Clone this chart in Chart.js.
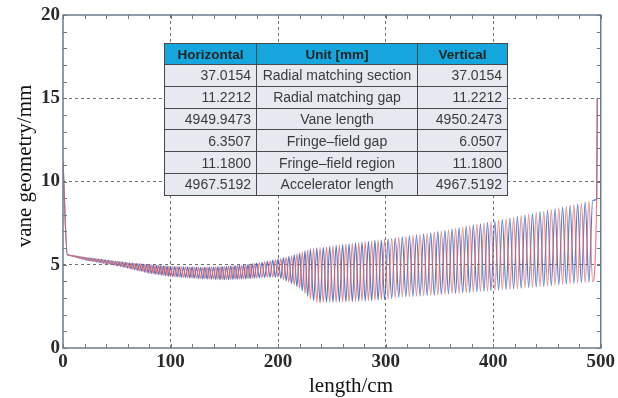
<!DOCTYPE html>
<html>
<head>
<meta charset="utf-8">
<script src="https://cdn.jsdelivr.net/npm/chart.js@4.4.1/dist/chart.umd.min.js"></script>
<style>
body { margin: 0; background: #fff; }
#wrap { position: relative; width: 618px; height: 398px; }
#vaneTable {
    position: absolute; left: 164px; top: 43px;
    border-collapse: collapse;
    font-family: "Liberation Sans", Arial, sans-serif;
    font-size: 14px; color: #3a3a3a;
}
#vaneTable th, #vaneTable td { border: 1px solid #4a4a4a; padding: 0; }
#vaneTable th { background: #14a6dc; height: 20px; font-size: 13.5px; color: #262626; text-align: center; }
#vaneTable td { background: #e6eaf0; height: 20.8px; }
#vaneTable td.num { text-align: right; padding-right: 5px; }
#vaneTable td.mid { text-align: center; }
</style>
</head>
<body>
<div id="wrap">
    <canvas id="vaneCanvas" width="618" height="398"></canvas>
    <table id="vaneTable"></table>
</div>
<script>
// table contents
var tableHead = ['Horizontal', 'Unit [mm]', 'Vertical'];
var horizontalVals = ['37.0154', '11.2212', '4949.9473', '6.3507', '11.1800', '4967.5192'];
var unitNames = ['Radial matching section', 'Radial matching gap', 'Vane length',
    'Fringe\u2013field gap', 'Fringe\u2013field region', 'Accelerator length'];
var verticalVals = ['37.0154', '11.2212', '4950.2473', '6.0507', '11.1800', '4967.5192'];

// axis ticks
var xTicks = [0, 100, 200, 300, 400, 500];
var yTicks = [0, 5, 10, 15, 20];

// radial matching entry and fringe-field exit (cm, mm)
var entryZ = [0.0], entryY = [11.22];
var exitZ = [496.2, 496.8], exitY = [8.95, 15.0];

// cell boundaries (cm) with max / min vane aperture (mm)
var cellZ = [
    4.0, 5.6, 7.2, 8.8, 10.4, 12.0, 13.6, 15.2, 16.8, 18.4, 20.0, 21.6, 23.2, 24.8, 26.4, 28.0,
    29.6, 31.2, 32.8, 34.4, 36.0, 37.6, 39.2, 40.8, 42.4, 44.0, 45.6, 47.2, 48.8, 50.4, 52.0,
    53.6, 55.2, 56.8, 58.4, 60.0, 61.6, 63.2, 64.8, 66.4, 68.0, 69.6, 71.2, 72.8, 74.4, 76.0,
    77.6, 79.2, 80.8, 82.4, 84.0, 85.6, 87.2, 88.8, 90.4, 92.0, 93.6, 95.2, 96.8, 98.4, 100.0,
    102, 104, 106, 108, 110, 112, 114, 116, 118, 120, 122, 124, 126, 128, 130, 132, 134, 136,
    138, 140, 142, 144, 146, 148, 150, 152, 154, 156, 158, 160, 162, 164, 166, 168, 170, 172,
    174, 176, 178, 180,
    182.5, 185, 187.5, 190, 192.5, 195, 197.5, 200, 202.5, 205, 207.5, 210, 212.5, 215, 217.5,
    220, 222.5, 225, 227.5, 230,
    233, 236, 239, 242, 245, 248, 251, 254, 257, 260, 263, 266, 269, 272, 275, 278, 281, 284,
    287, 290, 293, 296, 299,
    302.3, 305.6, 308.9, 312.2, 315.5, 318.8, 322.1, 325.4, 328.7, 332.0, 335.3, 338.6, 341.9,
    345.2, 348.5, 351.8, 355.1, 358.4, 361.7, 365.0, 368.3, 371.6, 374.9, 378.2, 381.5, 384.8,
    388.1, 391.4, 394.7, 398.0,
    401.5, 405, 408.5, 412, 415.5, 419, 422.5, 426, 429.5, 433, 436.5, 440, 443.5, 447, 450.5,
    454, 457.5, 461, 464.5, 468, 471.5, 475, 478.5, 482, 485.5, 489, 492.5
];
var apertureMax = [
    5.60, 5.59, 5.57, 5.56, 5.54, 5.53, 5.51, 5.50, 5.48, 5.47, 5.45, 5.44, 5.42, 5.41, 5.40, 5.38,
    5.37, 5.36, 5.34, 5.33, 5.32, 5.30, 5.29, 5.28, 5.26, 5.25, 5.24, 5.22, 5.21, 5.20, 5.19,
    5.18, 5.17, 5.15, 5.14, 5.13, 5.12, 5.11, 5.10, 5.09, 5.08, 5.07, 5.06, 5.05, 5.04, 5.03,
    5.02, 5.01, 5.00, 4.99, 4.98, 4.97, 4.96, 4.96, 4.95, 4.94, 4.93, 4.92, 4.92, 4.91, 4.90,
    4.90, 4.89, 4.89, 4.89, 4.88, 4.88, 4.88, 4.87, 4.87, 4.87, 4.86, 4.86, 4.86, 4.85, 4.85, 4.86, 4.86, 4.87,
    4.87, 4.88, 4.88, 4.89, 4.89, 4.90, 4.90, 4.91, 4.92, 4.93, 4.94, 4.95, 4.96, 4.97, 4.98, 4.99, 5.00, 5.02,
    5.04, 5.06, 5.08, 5.10,
    5.13, 5.15, 5.18, 5.20, 5.24, 5.28, 5.31, 5.35, 5.39, 5.43, 5.46, 5.50, 5.55, 5.60, 5.65,
    5.70, 5.76, 5.83, 5.89, 5.95,
    5.98, 6.01, 6.04, 6.06, 6.09, 6.11, 6.14, 6.16, 6.19, 6.21, 6.24, 6.26, 6.29, 6.31, 6.34, 6.36, 6.39, 6.41,
    6.43, 6.46, 6.48, 6.50, 6.52,
    6.55, 6.58, 6.61, 6.65, 6.68, 6.71, 6.74, 6.77, 6.80, 6.83, 6.86, 6.89, 6.92,
    6.96, 6.99, 7.02, 7.06, 7.10, 7.14, 7.18, 7.22, 7.26, 7.30, 7.34, 7.38, 7.42,
    7.46, 7.50, 7.54, 7.58,
    7.62, 7.67, 7.71, 7.76, 7.80, 7.85, 7.89, 7.94, 7.98, 8.03, 8.07, 8.12, 8.17, 8.21, 8.26,
    8.31, 8.36, 8.41, 8.46, 8.51, 8.56, 8.61, 8.66, 8.71, 8.76, 8.81, 8.86
];
var apertureMin = [
    5.60, 5.57, 5.54, 5.51, 5.48, 5.45, 5.42, 5.39, 5.36, 5.33, 5.30, 5.28, 5.26, 5.24, 5.23, 5.21,
    5.19, 5.17, 5.15, 5.13, 5.11, 5.09, 5.07, 5.06, 5.04, 5.02, 5.00, 4.98, 4.96, 4.94, 4.92,
    4.90, 4.87, 4.85, 4.82, 4.80, 4.78, 4.75, 4.73, 4.71, 4.68, 4.66, 4.63, 4.61, 4.59, 4.56,
    4.54, 4.51, 4.49, 4.48, 4.46, 4.44, 4.43, 4.41, 4.40, 4.38, 4.36, 4.35, 4.33, 4.32, 4.30,
    4.29, 4.28, 4.27, 4.26, 4.25, 4.24, 4.23, 4.22, 4.21, 4.20, 4.19, 4.18, 4.17, 4.16, 4.15, 4.15, 4.14, 4.14,
    4.13, 4.13, 4.12, 4.12, 4.11, 4.11, 4.10, 4.11, 4.11, 4.12, 4.12, 4.13, 4.13, 4.14, 4.14, 4.15, 4.15, 4.16,
    4.17, 4.18, 4.19, 4.20,
    4.21, 4.23, 4.24, 4.25, 4.25, 4.25, 4.25, 4.25, 4.18, 4.10, 4.03, 3.95, 3.86, 3.78, 3.69,
    3.60, 3.44, 3.28, 3.11, 2.95,
    2.85, 2.75, 2.72, 2.73, 2.74, 2.74, 2.75, 2.76, 2.76, 2.77, 2.78, 2.79, 2.79, 2.80, 2.81, 2.82, 2.82, 2.84,
    2.85, 2.87, 2.88, 2.90, 2.91,
    2.94, 2.98, 3.02, 3.05, 3.06, 3.08, 3.09, 3.10, 3.12, 3.13, 3.14, 3.16, 3.17,
    3.18, 3.19, 3.21, 3.23, 3.24, 3.26, 3.28, 3.29, 3.31, 3.32, 3.34, 3.36, 3.37,
    3.39, 3.41, 3.42, 3.44,
    3.46, 3.48, 3.50, 3.51, 3.53, 3.55, 3.57, 3.59, 3.61, 3.63, 3.65, 3.67, 3.69, 3.70, 3.72,
    3.74, 3.77, 3.79, 3.81, 3.83, 3.85, 3.88, 3.90, 3.92, 3.94, 3.96, 3.98
];

function buildVane(maxOnOdd) {
    var pts = [{ x: entryZ[0], y: entryY[0] }];
    for (var i = 0; i < cellZ.length; i++) {
        var useMax = (i % 2 === 1) === maxOnOdd;
        pts.push({ x: cellZ[i], y: useMax ? apertureMax[i] : apertureMin[i] });
    }
    for (var j = 0; j < exitZ.length; j++) {
        pts.push({ x: exitZ[j], y: exitY[j] });
    }
    return pts;
}

function buildTable() {
    var t = document.getElementById('vaneTable');
    var html = '<tr><th style="width:91px">' + tableHead[0] + '</th><th style="width:160px">' +
        tableHead[1] + '</th><th style="width:89px">' + tableHead[2] + '</th></tr>';
    for (var i = 0; i < unitNames.length; i++) {
        html += '<tr><td class="num">' + horizontalVals[i] + '</td><td class="mid">' + unitNames[i] +
            '</td><td class="num">' + verticalVals[i] + '</td></tr>';
    }
    t.innerHTML = html;
}

// inward minor ticks, full frame and axis titles
var frameTicks = {
    id: 'frameTicks',
    afterDraw: function (chart) {
        var ctx = chart.ctx, a = chart.chartArea;
        var xs = chart.scales.x, ys = chart.scales.y;
        ctx.save();
        ctx.strokeStyle = '#6b7c8a';
        ctx.lineWidth = 1;
        ctx.beginPath();
        for (var v = 0; v <= 500; v += 20) {
            var px = Math.round(xs.getPixelForValue(v)) + 0.5;
            ctx.moveTo(px, a.bottom); ctx.lineTo(px, a.bottom - 4);
            ctx.moveTo(px, a.top); ctx.lineTo(px, a.top + 4);
        }
        for (var w = 0; w <= 20; w += 1) {
            var py = Math.round(ys.getPixelForValue(w)) + 0.5;
            ctx.moveTo(a.left, py); ctx.lineTo(a.left + 4, py);
            ctx.moveTo(a.right, py); ctx.lineTo(a.right - 4, py);
        }
        ctx.stroke();
        ctx.lineWidth = 1.5;
        ctx.strokeRect(a.left, a.top, a.right - a.left, a.bottom - a.top);

        ctx.fillStyle = '#111';
        ctx.font = '21px "Liberation Serif", serif';
        ctx.textAlign = 'center';
        ctx.textBaseline = 'middle';
        ctx.fillText('length/cm', a.left + 288, a.bottom + 38);
        ctx.translate(25, a.top + 151);
        ctx.rotate(-Math.PI / 2);
        ctx.fillText('vane geometry/mm', 0, 0);
        ctx.restore();
    }
};

var tickFont = { family: '"Liberation Serif", serif', size: 19, weight: 'bold' };
function gridColor(c) {
    if (!c.tick) return 'rgba(0,0,0,0)';
    var v = c.tick.value;
    return (v === c.scale.min || v === c.scale.max) ? 'rgba(0,0,0,0)' : '#707070';
}

buildTable();

new Chart(document.getElementById('vaneCanvas').getContext('2d'), {
    type: 'line',
    data: {
        datasets: [
            {
                label: 'Horizontal',
                data: buildVane(true),
                borderColor: 'rgba(236, 98, 98, 0.78)',
                borderWidth: 1.2,
                pointRadius: 0,
                cubicInterpolationMode: 'monotone'
            },
            {
                label: 'Vertical',
                data: buildVane(false),
                borderColor: 'rgba(40, 104, 205, 0.85)',
                borderWidth: 1.2,
                pointRadius: 0,
                cubicInterpolationMode: 'monotone'
            }
        ]
    },
    options: {
        responsive: false,
        animation: false,
        layout: { padding: { top: 15, right: 15, left: 0, bottom: 0 } },
        plugins: { legend: { display: false }, tooltip: { enabled: false } },
        scales: {
            x: {
                type: 'linear', min: 0, max: 500, z: 1,
                afterBuildTicks: function (s) { s.ticks = xTicks.map(function (v) { return { value: v }; }); },
                afterFit: function (s) { s.height = 50; },
                ticks: { font: tickFont, color: '#2a2a2a', padding: 3, maxRotation: 0 },
                grid: { color: gridColor, lineWidth: 1, drawTicks: false },
                border: { display: false, dash: [3, 3] }
            },
            y: {
                type: 'linear', min: 0, max: 20, z: 1,
                afterBuildTicks: function (s) { s.ticks = yTicks.map(function (v) { return { value: v }; }); },
                afterFit: function (s) { s.width = 63; },
                ticks: { font: tickFont, color: '#2a2a2a', padding: 3 },
                grid: { color: gridColor, lineWidth: 1, drawTicks: false },
                border: { display: false, dash: [3, 3] }
            }
        }
    },
    plugins: [frameTicks]
});
</script>
</body>
</html>
